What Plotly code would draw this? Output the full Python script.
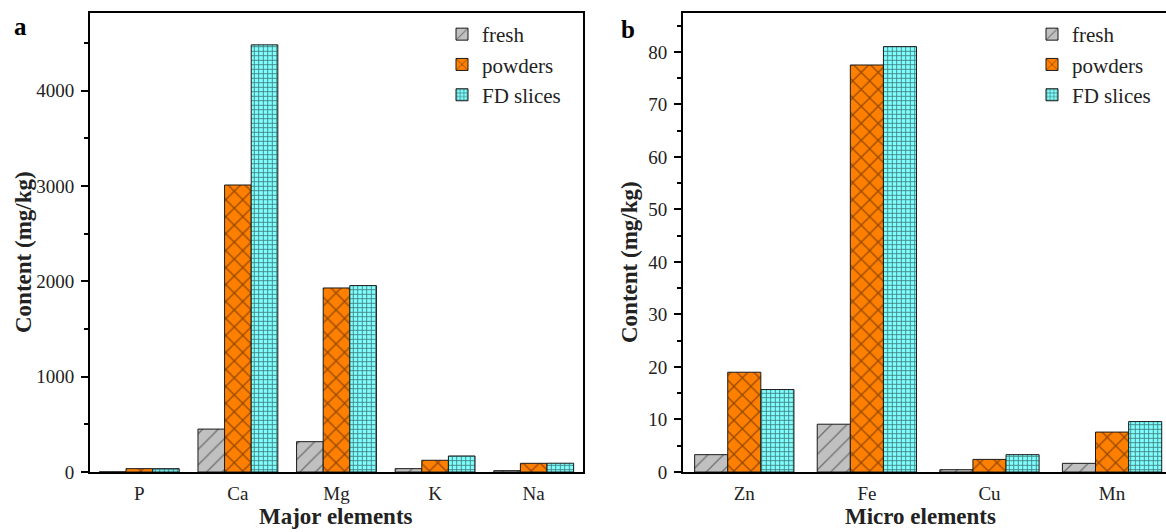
import plotly.graph_objects as go

# ---------------- data ----------------
major_elements = ["P", "Ca", "Mg", "K", "Na"]
major_fresh = [2, 450, 318, 35, 14]
major_powders = [35, 3010, 1930, 123, 91]
major_fd = [35, 4480, 1955, 168, 92]

micro_elements = ["Zn", "Fe", "Cu", "Mn"]
micro_fresh = [3.3, 9.1, 0.44, 1.65]
micro_powders = [19.0, 77.5, 2.4, 7.6]
micro_fd = [15.7, 81.0, 3.3, 9.6]

series_names = ["fresh", "powders", "FD slices"]
left_ticks = [0, 1000, 2000, 3000, 4000]
right_ticks = [0, 10, 20, 30, 40, 50, 60, 70, 80]

# ---------------- styles ----------------
FONT = "Liberation Serif"
W, H = 1166, 532
styles = [
    dict(bg="#c0c0c0", fg="#202020", shape="/", size=11, solidity=0.12),
    dict(bg="#ff8000", fg="#2a1000", shape="x", size=12, solidity=0.2),
    dict(bg="#80ffff", fg="#000000", shape="+", size=4.5, solidity=0.35),
]

fig = go.Figure()

major_series = [major_fresh, major_powders, major_fd]
micro_series = [micro_fresh, micro_powders, micro_fd]

for name, vals, st in zip(series_names, major_series, styles):
    fig.add_trace(go.Bar(
        x=major_elements, y=vals, name=name, xaxis="x", yaxis="y", legend="legend",
        marker=dict(color=st["bg"], line=dict(color="#1a1a1a", width=1),
                    pattern=dict(shape=st["shape"], bgcolor=st["bg"], fgcolor=st["fg"],
                                 size=st["size"], solidity=st["solidity"], fillmode="overlay")),
    ))

for name, vals, st in zip(series_names, micro_series, styles):
    fig.add_trace(go.Bar(
        x=micro_elements, y=vals, name=name, xaxis="x2", yaxis="y2", legend="legend2",
        marker=dict(color=st["bg"], line=dict(color="#1a1a1a", width=1),
                    pattern=dict(shape=st["shape"], bgcolor=st["bg"], fgcolor=st["fg"],
                                 size=st["size"], solidity=st["solidity"], fillmode="overlay")),
    ))

ydom = [1 - 472 / H, 1 - 13 / H]
tickfont = dict(family=FONT, size=19, color="#222222")

common_x = dict(showline=True, linewidth=2, linecolor="black", mirror=True,
                ticks="outside", ticklen=3, tickcolor="rgba(0,0,0,0)", automargin=False,
                tickfont=tickfont, showgrid=False, zeroline=False, fixedrange=True)
common_y = dict(showline=True, linewidth=2, linecolor="black", automargin=False,
                ticks="outside", ticklen=7, tickwidth=2, tickcolor="black",
                tickfont=tickfont, showgrid=False, zeroline=False,
                ticklabelstandoff=3)

fig.update_layout(
    width=W, height=H,
    margin=dict(l=0, r=0, t=0, b=0, autoexpand=False),
    paper_bgcolor="white", plot_bgcolor="white",
    barmode="group", bargap=0.19, bargroupgap=0,
    font=dict(family=FONT, color="#222222"),
    xaxis=dict(domain=[90 / W, 583 / W], range=[-0.5, 4.5], anchor="y", **common_x),
    yaxis=dict(domain=ydom, range=[0, 4814], anchor="x", mirror=True,
               tickvals=left_ticks,
               minor=dict(ticks="outside", ticklen=4, tickwidth=2, tickcolor="black", dtick=500),
               **common_y),
    xaxis2=dict(domain=[683 / W, 1.0], range=[-0.5, 3.44], anchor="y2", **common_x),
    yaxis2=dict(domain=ydom, range=[0, 87.4], anchor="x2", mirror=False,
                tickvals=right_ticks,
                minor=dict(ticks="outside", ticklen=4, tickwidth=2, tickcolor="black", dtick=5),
                **common_y),
    legend=dict(x=442 / W, y=1 - 14 / H, xanchor="left", yanchor="top",
                font=dict(family=FONT, size=21, color="#222222"),
                bgcolor="rgba(0,0,0,0)", tracegroupgap=0),
    legend2=dict(x=1032 / W, y=1 - 14 / H, xanchor="left", yanchor="top",
                 font=dict(family=FONT, size=21, color="#222222"),
                 bgcolor="rgba(0,0,0,0)", tracegroupgap=0),
    showlegend=True,
)

ann_font_title = dict(family=FONT, size=23, color="#222222")
annotations = [
    dict(text="<b>a</b>", x=12 / W, y=1 - 27 / H, xref="paper", yref="paper",
         xanchor="left", yanchor="middle", showarrow=False,
         font=dict(family=FONT, size=25, color="black")),
    dict(text="<b>b</b>", x=619 / W, y=1 - 30 / H, xref="paper", yref="paper",
         xanchor="left", yanchor="middle", showarrow=False,
         font=dict(family=FONT, size=25, color="black")),
    dict(text="<b>Content (mg/kg)</b>", x=24 / W, y=1 - 252 / H, xref="paper", yref="paper",
         xanchor="center", yanchor="middle", textangle=-90, showarrow=False, font=ann_font_title),
    dict(text="<b>Content (mg/kg)</b>", x=630 / W, y=1 - 262 / H, xref="paper", yref="paper",
         xanchor="center", yanchor="middle", textangle=-90, showarrow=False, font=ann_font_title),
    dict(text="<b>Major elements</b>", x=336 / W, y=1 - 516 / H, xref="paper", yref="paper",
         xanchor="center", yanchor="middle", showarrow=False, font=ann_font_title),
    dict(text="<b>Micro elements</b>", x=920 / W, y=1 - 516 / H, xref="paper", yref="paper",
         xanchor="center", yanchor="middle", showarrow=False, font=ann_font_title),
]
fig.update_layout(annotations=annotations)

fig.write_html(
    "out.html",
    config={"displayModeBar": False},
    post_script="document.body.style.margin='0';document.body.style.overflow='hidden';",
)
